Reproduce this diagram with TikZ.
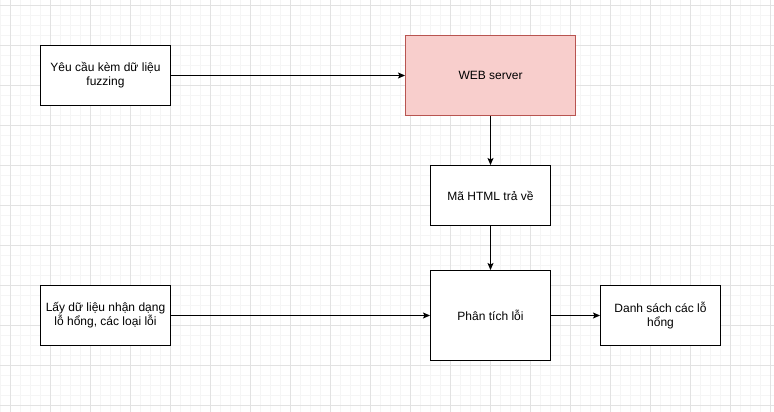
\documentclass[tikz,border=0pt]{standalone}
\usepackage{fontspec}
\setmainfont{Liberation Sans}
\usetikzlibrary{arrows.meta}
\definecolor{gridminor}{HTML}{F5F5F5}
\definecolor{gridmajor}{HTML}{E2E2E2}
\definecolor{webfill}{HTML}{F8CECC}
\definecolor{webdraw}{HTML}{B85450}
\begin{document}
\begin{tikzpicture}[x=1pt,y=-1pt,
  box/.style={draw=black, line width=1pt, fill=white, inner sep=0pt, align=center,
    font=\fontsize{12}{14}\selectfont},
  conn/.style={draw=black, line width=1pt, -{Stealth[length=7pt,width=6pt,inset=1.5pt]}}]
\useasboundingbox (0,0) rectangle (774,412);
\fill[white] (0,0) rectangle (774,412);
% grid
\begin{scope}[shift={(0.5,0.5)}]
\foreach \x in {0,10,...,770} \draw[gridminor, line width=1pt] (\x,-1) -- (\x,412);
\foreach \y in {5,15,...,405} \draw[gridminor, line width=1pt] (-1,\y) -- (774,\y);
\foreach \x in {10,50,...,770} \draw[gridmajor, line width=1pt] (\x,-1) -- (\x,412);
\foreach \y in {5,45,...,405} \draw[gridmajor, line width=1pt] (-1,\y) -- (774,\y);
\end{scope}
% nodes
\node[box, minimum width=130pt, minimum height=60pt] (req) at (105.5,75.5) {Yêu cầu kèm dữ liệu\\fuzzing};
\node[box, draw=webdraw, fill=webfill, minimum width=170pt, minimum height=80pt] (web) at (490.5,75.5) {WEB server};
\node[box, minimum width=120pt, minimum height=60pt] (html) at (490.5,195.5) {Mã HTML trả về};
\node[box, minimum width=120pt, minimum height=90pt] (ana) at (490.5,315.5) {Phân tích lỗi};
\node[box, minimum width=130pt, minimum height=60pt] (data) at (105.5,315.5) {Lấy dữ liệu nhận dạng\\lỗ hổng, các loại lỗi};
\node[box, minimum width=120pt, minimum height=60pt] (list) at (660.5,315.5) {Danh sách các lỗ\\hổng};
% connectors
\draw[conn] (req) -- (web);
\draw[conn] (web) -- (html);
\draw[conn] (html) -- (ana);
\draw[conn] (data) -- (ana);
\draw[conn] (ana) -- (list);
\end{tikzpicture}
\end{document}
